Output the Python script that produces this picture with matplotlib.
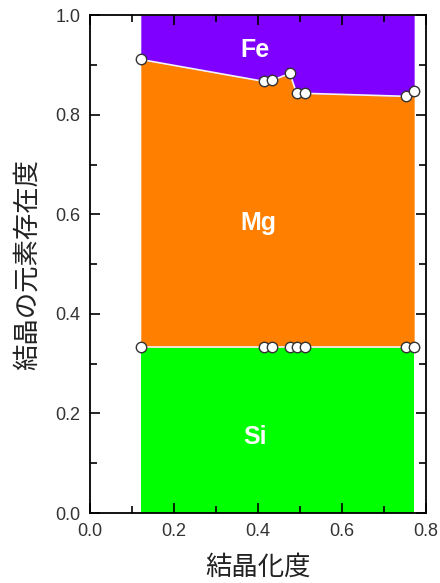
import numpy as np
import matplotlib
matplotlib.use('Agg')
import matplotlib.pyplot as plt
from matplotlib.ticker import MultipleLocator

# crystallinity (x) and element fractions in the crystal
crystallinity = [0.121, 0.414, 0.433, 0.476, 0.492, 0.512, 0.752, 0.772]
si_frac = [0.333, 0.333, 0.333, 0.333, 0.333, 0.333, 0.333, 0.333]
mg_frac = [0.578, 0.534, 0.536, 0.550, 0.510, 0.510, 0.504, 0.514]
labels = ['Si', 'Mg', 'Fe']

x = np.array(crystallinity)
si = np.array(si_frac)
mg_top = si + np.array(mg_frac)

plt.rcParams['font.family'] = ['Liberation Sans', 'DejaVu Sans']

fig = plt.figure(figsize=(4.4, 5.83), dpi=100)
ax = fig.add_axes([0.2045, 0.120, 0.7635, 0.854])

ax.fill_between(x, 0, si, color='#00ff00', lw=0)
ax.fill_between(x, si, mg_top, color='#ff8000', lw=0)
ax.fill_between(x, mg_top, 1.0, color='#8000ff', lw=0)

# boundary lines with white markers
ax.plot(x, si, color='#f4f4f4', lw=1.2, marker='o', ms=7.5,
        mfc='white', mec='#333333', mew=1.0, zorder=5)
ax.plot(x, mg_top, color='#f4f4f4', lw=1.2, marker='o', ms=7.5,
        mfc='white', mec='#333333', mew=1.0, zorder=5)

txt = dict(color='white', fontsize=18, fontweight='bold', ha='center', va='center')
ax.text(0.393, 0.152, labels[0], **txt)
ax.text(0.40, 0.583, labels[1], **txt)
ax.text(0.393, 0.93, labels[2], **txt)

ax.set_xlim(0, 0.8)
ax.set_ylim(0, 1.0)
ax.xaxis.set_major_locator(MultipleLocator(0.2))
ax.xaxis.set_minor_locator(MultipleLocator(0.1))
ax.yaxis.set_major_locator(MultipleLocator(0.2))
ax.yaxis.set_minor_locator(MultipleLocator(0.1))
ax.xaxis.set_major_formatter(plt.FormatStrFormatter('%.1f'))
ax.yaxis.set_major_formatter(plt.FormatStrFormatter('%.1f'))
ax.tick_params(which='both', direction='in', top=True, right=True,
               labelsize=13, colors='black', labelcolor='#333333', width=1.2)
ax.tick_params(which='major', length=7, pad=7)
ax.tick_params(which='minor', length=5)
for s in ax.spines.values():
    s.set_linewidth(1.3)

cjk = ['Noto Sans CJK JP', 'DejaVu Sans']
ax.set_xlabel('結晶化度', fontsize=19, family=cjk, color='#222222', labelpad=10)
ax.set_ylabel('結晶の元素存在度', fontsize=19, family=cjk, color='#222222', labelpad=10)

fig.savefig('out.png', dpi=100)
